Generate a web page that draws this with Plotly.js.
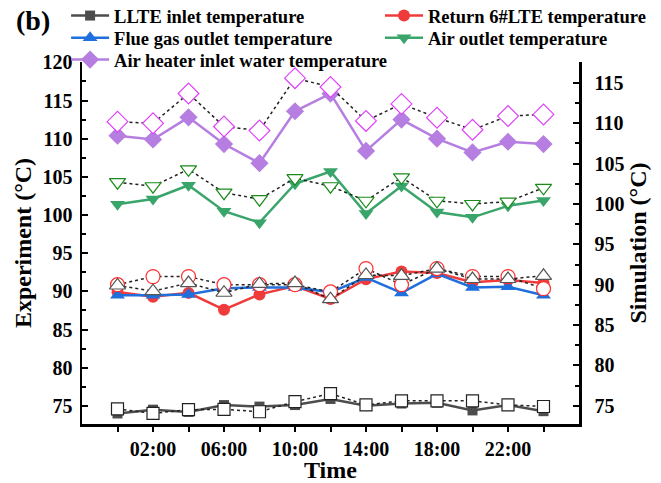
<!DOCTYPE html>
<html>
<head>
<meta charset="utf-8">
<script src="https://cdn.plot.ly/plotly-3.0.1.min.js"></script>
<style>
  html, body { margin: 0; padding: 0; background: #fff; }
  #chart { width: 661px; height: 483px; }
</style>
</head>
<body>
<div id="chart"></div>
<script>
// Sampling times (hours of the day)
const hours = [0, 2, 4, 6, 8, 10, 12, 14, 16, 18, 20, 22, 24];
const tickHours = [0, 2, 4, 6, 8, 10, 12, 14, 16, 18, 20, 22, 24];
const tickLabels = ['', '02:00', '', '06:00', '', '10:00', '', '14:00', '', '18:00', '', '22:00', ''];

// Measured temperatures (left axis, °C)
const expLLTE   = [74.0, 74.5, 74.2, 75.1, 74.9, 75.1, 75.9, 75.0, 75.3, 75.4, 74.4, 75.1, 74.3];
const expReturn = [89.9, 89.3, 89.8, 87.6, 89.6, 90.7, 89.0, 91.6, 92.6, 92.4, 91.2, 91.5, 91.1];
const expFlue   = [89.5, 89.5, 89.6, 90.4, 90.5, 90.5, 89.9, 91.8, 89.8, 92.3, 90.5, 90.6, 89.5];
const expAir    = [101.4, 102.1, 103.9, 100.5, 99.0, 104.1, 105.7, 100.2, 103.8, 100.4, 99.7, 101.2, 101.9];
const expHeater = [110.4, 109.9, 112.8, 109.3, 106.8, 113.6, 115.9, 108.4, 112.5, 110.0, 108.2, 109.6, 109.3];

// Simulated temperatures (right axis, °C)
const simLLTE   = [74.6, 74.05, 74.5, 74.55, 74.25, 75.5, 76.5, 75.1, 75.6, 75.6, 75.6, 75.1, 74.9];
const simReturn = [90.0, 91.0, 91.0, 90.0, 90.0, 90.0, 89.1, 92.0, 90.0, 92.0, 91.0, 91.0, 89.5];
const simFlue   = [89.9, 89.2, 90.2, 89.0, 90.1, 90.2, 88.2, 91.2, 91.1, 92.0, 90.7, 90.7, 91.1];
const simAir    = [102.7, 102.2, 104.3, 101.4, 100.6, 103.2, 102.2, 100.4, 103.3, 100.4, 100.0, 100.3, 102.0];
const simHeater = [110.2, 110.0, 113.7, 109.6, 109.1, 115.6, 114.5, 110.3, 112.4, 110.7, 109.2, 110.9, 111.1];

const FONT = 'Liberation Serif, Times New Roman, serif';

function expTrace(name, y, color, symbol, size, legendId) {
  return {
    x: hours, y: y, name: name, type: 'scatter', mode: 'lines+markers',
    line: { color: color, width: 2.5 },
    marker: { color: color, symbol: symbol, size: size },
    yaxis: 'y', legend: legendId
  };
}
function simTrace(name, y, edge, symbol, size) {
  return {
    x: hours, y: y, name: name, type: 'scatter', mode: 'lines+markers',
    line: { color: '#222', width: 1.5, dash: 'dot' },
    marker: { color: '#fff', symbol: symbol, size: size, line: { color: edge, width: 1.2 } },
    yaxis: 'y2', showlegend: false
  };
}

const data = [
  expTrace('LLTE inlet temperature', expLLTE, '#4d4d4d', 'square', 10, 'legend'),
  expTrace('Return 6#LTE temperature', expReturn, '#ef3b3b', 'circle', 12, 'legend2'),
  expTrace('Flue gas outlet temperature', expFlue, '#1f6fdc', 'triangle-up', 13, 'legend3'),
  expTrace('Air outlet temperature', expAir, '#3aa56a', 'triangle-down', 13, 'legend4'),
  expTrace('Air heater inlet water temperature', expHeater, '#b57ee0', 'diamond', 14, 'legend5'),
  simTrace('LLTE inlet temperature, simulated', simLLTE, '#222', 'square', 12),
  simTrace('Return 6#LTE temperature, simulated', simReturn, '#ff3030', 'circle', 14),
  simTrace('Flue gas outlet temperature, simulated', simFlue, '#555', 'triangle-up', 14),
  simTrace('Air outlet temperature, simulated', simAir, '#1a8a1a', 'triangle-down', 14),
  simTrace('Air heater inlet water temperature, simulated', simHeater, '#e040fb', 'diamond', 16)
];

const axisCommon = {
  showline: true, linecolor: '#000', linewidth: 2.5,
  showgrid: false, zeroline: false,
  tickfont: { family: FONT, size: 20, color: '#000', weight: 'bold' },
  ticks: 'inside', ticklen: 6, tickwidth: 2, tickcolor: '#000'
};
const titleFont = { family: FONT, size: 24, color: '#000', weight: 'bold' };

// One legend box per entry so the entries sit in two columns
function legendBox(x, y) {
  return {
    orientation: 'v', x: x, xanchor: 'left', y: y, yanchor: 'middle',
    itemwidth: 38,
    font: { family: FONT, size: 18.5, color: '#000', weight: 'bold' },
    bgcolor: 'rgba(0,0,0,0)', borderwidth: 0
  };
}
const col1 = -0.032, col2 = 0.5996;
const row1 = 1.127, row2 = 1.066, row3 = 1.0055;

const layout = {
  width: 661, height: 483,
  margin: { l: 82, r: 82, t: 62, b: 59, autoexpand: false },
  paper_bgcolor: '#fff', plot_bgcolor: '#fff',
  font: { family: FONT, color: '#000' },
  xaxis: Object.assign({}, axisCommon, {
    range: [-2, 26],
    tickmode: 'array', tickvals: tickHours, ticktext: tickLabels,
    ticks: 'outside', ticklen: 5,
    title: { text: 'Time', font: titleFont, standoff: 4 }
  }),
  yaxis: Object.assign({}, axisCommon, {
    range: [72.62, 120.05], tick0: 75, dtick: 5, ticklabelstandoff: 3,
    minor: { dtick: 2.5, ticks: 'inside', ticklen: 4, tickwidth: 2, tickcolor: '#000' },
    title: { text: 'Experiment (°C)', font: titleFont, standoff: 4 }
  }),
  yaxis2: Object.assign({}, axisCommon, {
    overlaying: 'y', side: 'right',
    range: [72.73, 117.6], tick0: 75, dtick: 5, ticklabelstandoff: 9,
    minor: { dtick: 2.5, ticks: 'inside', ticklen: 4, tickwidth: 2, tickcolor: '#000' },
    title: { text: 'Simulation (°C)', font: titleFont, standoff: 4 }
  }),
  legend: legendBox(col1, row1),
  legend2: legendBox(col2, row1),
  legend3: legendBox(col1, row2),
  legend4: legendBox(col2, row2),
  legend5: legendBox(col1, row3),
  annotations: [{
    text: '(b)', xref: 'paper', yref: 'paper', x: -0.137, y: 1.116,
    xanchor: 'left', yanchor: 'middle', showarrow: false,
    font: { family: FONT, size: 28, color: '#000', weight: 'bold' }
  }],
  showlegend: true
};

Plotly.newPlot('chart', data, layout, { displayModeBar: false, staticPlot: true });
</script>
</body>
</html>
